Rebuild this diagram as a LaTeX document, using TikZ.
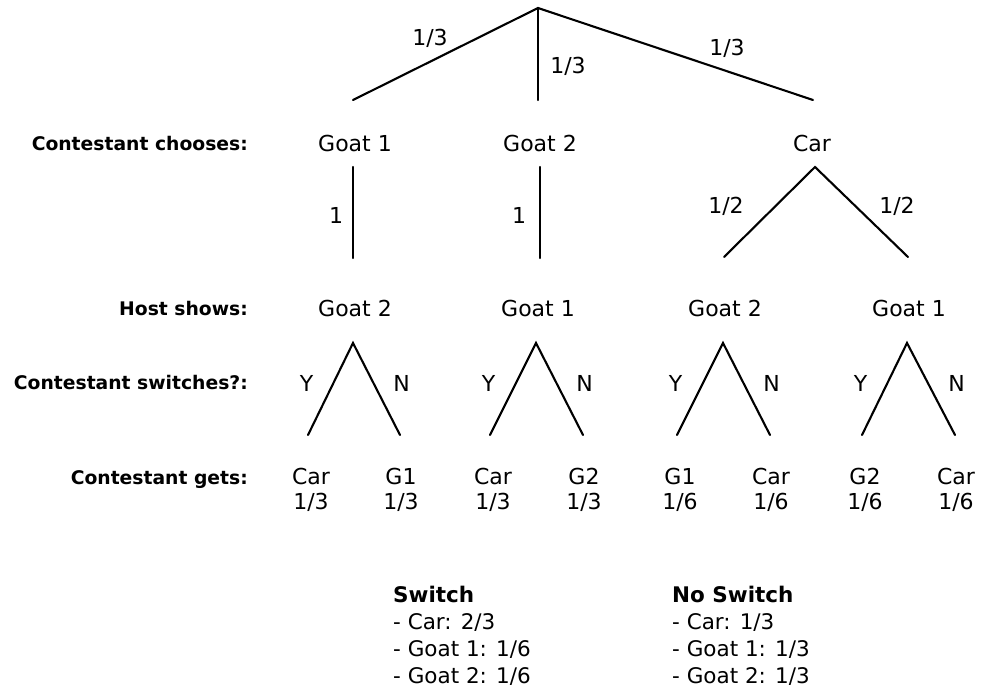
\documentclass[tikz,border=0pt]{standalone}
\usepackage{fontspec}
\setmainfont{DejaVu Sans}
\usetikzlibrary{positioning}
\tikzset{
  branch/.style={line width=2.1pt, line cap=round},
  pick/.style={font=\fontsize{22}{26}\selectfont, anchor=base, inner sep=0pt},
  rowlabel/.style={font=\bfseries\fontsize{18.75}{22}\selectfont, anchor=base east, inner sep=0pt},
  summary/.style={font=\fontsize{21.5}{27}\selectfont, align=left, anchor=north west, inner sep=0pt}
}

\begin{document}
\begin{tikzpicture}[x=1pt, y=-1pt]
\useasboundingbox (0,0) rectangle (984,688);

% row labels
\node[rowlabel] (chooses) at (248,150) {Contestant chooses:};
\node[rowlabel] (shows) at (248,315) {Host shows:};
\node[rowlabel] (switches) at (248,389) {Contestant switches?:};
\node[rowlabel] (gets) at (248,484) {Contestant gets:};

% first choice
\coordinate (root) at (538,8);
\coordinate (a1) at (353,100);
\coordinate (a2) at (538,100);
\coordinate (a3) at (813,100);
\draw[branch] (a1) -- (root) -- (a3);
\draw[branch] (root) -- (a2);
\node[pick] (pa1) at (430,45) {1/3};
\node[pick] (pa2) at (568,73) {1/3};
\node[pick] (pa3) at (727,55) {1/3};

\node[pick] (goat1) at (355,151) {Goat 1};
\node[pick] (goat2) at (540,151) {Goat 2};
\node[pick] (car) at (812,151) {Car};

% host opens a door
\coordinate (g1t) at (353,167);
\coordinate (g1b) at (353,258);
\coordinate (g2t) at (540,167);
\coordinate (g2b) at (540,258);
\coordinate (ct) at (815,167);
\coordinate (cl) at (724,257);
\coordinate (cr) at (908,257);
\draw[branch] (g1t) -- (g1b);
\draw[branch] (g2t) -- (g2b);
\draw[branch] (cl) -- (ct) -- (cr);
\node[pick] (pg1) at (336,223) {1};
\node[pick] (pg2) at (519,223) {1};
\node[pick] (pcl) at (726,213) {1/2};
\node[pick] (pcr) at (897,213) {1/2};

% switch or stay
\foreach \n/\x/\l/\r/\h/\ya/\pa/\na/\pn in
  {1/353/308/400/Goat 2/Car/1\slash 3/G1/1\slash 3,
   2/536/490/583/Goat 1/Car/1\slash 3/G2/1\slash 3,
   3/723/677/770/Goat 2/G1/1\slash 6/Car/1\slash 6,
   4/907/862/955/Goat 1/G2/1\slash 6/Car/1\slash 6} {
  \node[pick] (host\n) at (\x+2,316) {\h};
  \coordinate (h\n) at (\x,343);
  \coordinate (y\n) at (\l,435);
  \coordinate (n\n) at (\r,435);
  \draw[branch] (y\n) -- (h\n) -- (n\n);
  \node[pick] (ylab\n) at (\l-1.5,391) {Y};
  \node[pick] (nlab\n) at (\r+1.5,391) {N};
  \node[pick] (gy\n) at (\l+3,484) {\ya};
  \node[pick] (gn\n) at (\r+1,484) {\na};
  \node[pick] (py\n) at (\l+3,509) {\pa};
  \node[pick] (pn\n) at (\r+1,509) {\pn};
}

% totals
\node[summary] (withswitch) at (393,586)
  {\textbf{Switch}\\- Car: 2/3\\- Goat 1: 1/6\\- Goat 2: 1/6};
\node[summary] (noswitch) at (672,586)
  {\textbf{No Switch}\\- Car: 1/3\\- Goat 1: 1/3\\- Goat 2: 1/3};
\end{tikzpicture}
\end{document}
